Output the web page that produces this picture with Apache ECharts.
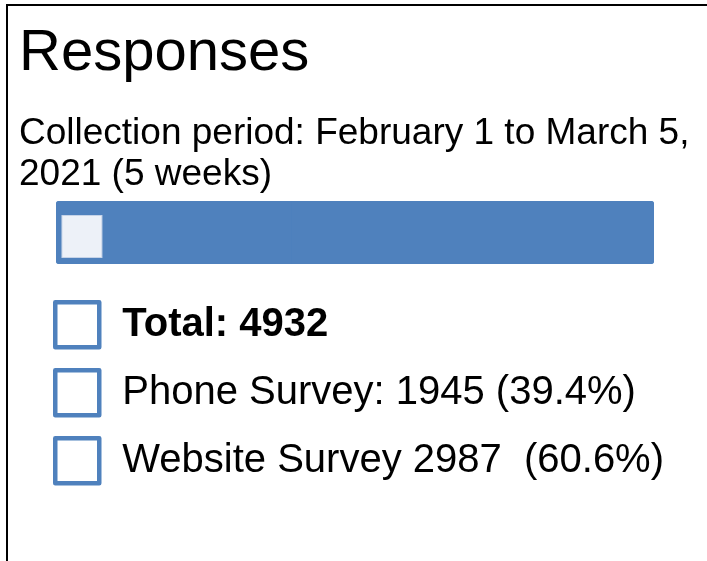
<!DOCTYPE html>
<html>
<head>
<meta charset="utf-8">
<script src="https://cdn.jsdelivr.net/npm/echarts@6/dist/echarts.min.js"></script>
<style>
html,body{margin:0;padding:0;background:#fff;}
#chart{position:absolute;left:0;top:0;width:707px;height:561px;}
#frame{position:absolute;left:6px;top:4px;width:701px;height:557px;border-top:2px solid #000;border-left:2px solid #000;box-sizing:border-box;pointer-events:none;}
</style>
</head>
<body>
<div id="chart"></div>
<div id="frame"></div>
<script>
// ---- data ----
const titleText = 'Responses';
const subtitleText = 'Collection period: February 1 to March 5,\n2021 (5 weeks)';
const seriesNames = ['Total', 'Phone Survey', 'Website Survey'];
const totalValue = [4932];
const phoneValue = [1945];
const websiteValue = [2987];
const legendLabels = ['Total: 4932', 'Phone Survey: 1945 (39.4%)', 'Website Survey 2987  (60.6%)'];
const markerValue = [214];   // position of the light square along the bar
const categories = ['Responses'];

const FONT = "'Liberation Sans', Arial, Helvetica, sans-serif";
const BLUE = '#4f81bd';

const chart = echarts.init(document.getElementById('chart'), null, {renderer: 'canvas'});
const legendStyle = {color: '#fff', borderColor: BLUE, borderWidth: 4.5, borderJoin: 'round'};

chart.setOption({
  animation: false,
  backgroundColor: '#fff',
  title: [
    {text: titleText, left: 19, top: 25, padding: 0,
     textStyle: {fontFamily: FONT, fontSize: 58, fontWeight: 'normal', color: '#000'}},
    {text: subtitleText, left: 19, top: 113, padding: 0,
     textStyle: {fontFamily: FONT, fontSize: 37, lineHeight: 41, fontWeight: 'normal', color: '#000'}}
  ],
  grid: {left: 56, right: 53, top: 201, height: 63, containLabel: false},
  xAxis: {type: 'value', min: 0, max: totalValue[0], show: false},
  yAxis: {type: 'category', data: categories, show: false},
  legend: {
    orient: 'vertical', left: 53, top: 300, padding: 0,
    itemWidth: 44, itemHeight: 45, itemGap: 18.5,
    selectedMode: false,
    data: seriesNames.map(n => ({name: n, icon: 'rect', itemStyle: legendStyle})),
    formatter: function (name) {
      const i = seriesNames.indexOf(name);
      return i === 0 ? '{b|' + legendLabels[i] + '}' : '{n|' + legendLabels[i] + '}';
    },
    textStyle: {
      fontFamily: FONT, fontSize: 40, color: '#000', padding: [0, 0, 0, 18],
      rich: {
        b: {fontFamily: FONT, fontSize: 40, fontWeight: 'bold', color: '#000'},
        n: {fontFamily: FONT, fontSize: 40, fontWeight: 'normal', color: '#000'}
      }
    }
  },
  series: [
    {name: seriesNames[0], type: 'bar', data: totalValue, barWidth: 63, barGap: '-100%', z: 1,
     itemStyle: {color: BLUE, borderRadius: 3}},
    {name: seriesNames[1], type: 'bar', stack: 'parts', data: phoneValue, barWidth: 63, z: 2,
     itemStyle: {color: BLUE, borderRadius: [3, 0, 0, 3]}},
    {name: seriesNames[2], type: 'bar', stack: 'parts', data: websiteValue, barWidth: 63, z: 2,
     itemStyle: {color: BLUE, borderRadius: [0, 3, 3, 0]}},
    {name: 'marker', type: 'scatter', data: markerValue.map((v, i) => [v, categories[i]]),
     symbol: 'rect', symbolSize: [40, 42], symbolOffset: [0, 4], z: 5,
     itemStyle: {color: '#edf1f8', borderColor: '#c5d3e8', borderWidth: 1, opacity: 1}}
  ]
});
</script>
</body>
</html>
